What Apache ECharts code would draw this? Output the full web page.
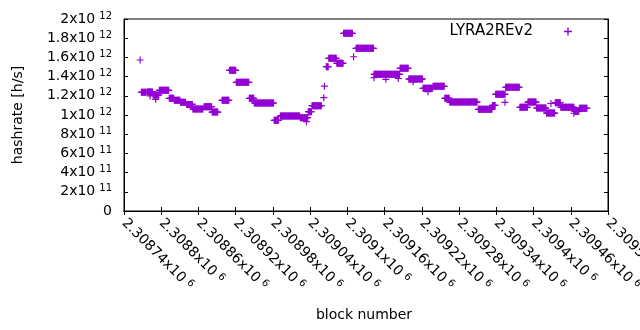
<!DOCTYPE html>
<html>
<head>
<meta charset="utf-8">
<script src="https://cdn.jsdelivr.net/npm/echarts@6/dist/echarts.min.js"></script>
<style>html,body{margin:0;padding:0;background:#fff;}#c{width:640px;height:330px;}</style>
</head>
<body>
<div id="c"></div>
<script>
// Hashrate runs (values in units of 10^12 h/s)
const runStart = [2308768,2308777,2308787,2308797,2308813,2308821,2308831,2308841,2308851,2308869,2308882,2308898,2308910,2308921,2308942,2308950,2308982,2308992,2309024,2309037,2309043,2309066,2309070,2309083,2309094,2309114,2309143,2309185,2309199,2309222,2309238,2309257,2309265,2309311,2309334,2309339,2309355,2309378,2309391,2309405,2309421,2309435,2309444,2309466,2309474];
const runEnd   = [2308775,2308786,2308796,2308812,2308820,2308830,2308839,2308850,2308867,2308881,2308891,2308909,2308920,2308941,2308949,2308981,2308989,2309023,2309036,2309042,2309058,2309069,2309082,2309093,2309108,2309142,2309184,2309198,2309221,2309237,2309256,2309264,2309309,2309333,2309338,2309354,2309377,2309390,2309404,2309420,2309434,2309443,2309465,2309473,2309486];
const runValue = [1.236,1.240,1.208,1.257,1.174,1.153,1.132,1.110,1.062,1.087,1.030,1.153,1.465,1.340,1.174,1.125,0.945,0.990,0.972,1.034,1.097,1.503,1.590,1.538,1.851,1.695,1.424,1.486,1.375,1.278,1.299,1.174,1.135,1.059,1.100,1.215,1.289,1.080,1.135,1.073,1.020,1.128,1.080,1.039,1.070];
// isolated blocks
const soloBlock = [2308766,2308782,2308791,2309034,2309062,2309063,2309110,2309143,2309162,2309182,2309206,2309230,2309354,2309428,2309465];
const soloValue = [1.573,1.198,1.163,0.930,1.180,1.300,1.607,1.389,1.372,1.380,1.347,1.243,1.132,1.120,1.018];

const yTicks = {min: 0, max: 2, interval: 0.2};
const xTicks = {min: 2308740, max: 2309520, interval: 60};
const seriesName = 'LYRA2REv2';

const points = [];
for (let i = 0; i < runStart.length; i++) {
  for (let b = runStart[i]; b <= runEnd[i]; b++) points.push([b, runValue[i]]);
}
for (let i = 0; i < soloBlock.length; i++) points.push([soloBlock[i], soloValue[i]]);

const FONT = 'DejaVu Sans';
const cross = 'path://M29,0H41V29H70V41H41V70H29V41H0V29H29Z';
const rich = {
  b: {fontFamily: FONT, fontSize: 14, color: '#000', lineHeight: 16, verticalAlign: 'middle'},
  s: {fontFamily: FONT, fontSize: 10, color: '#000', lineHeight: 9, verticalAlign: 'top', padding: [0, 0, 0, 4]}
};
function yFmt(v) {
  if (Math.abs(v) < 1e-9) return '{b|0}';
  if (v < 0.999) return '{b|' + Math.round(v * 10) + 'x10}{s|11}';
  return '{b|' + parseFloat(v.toFixed(1)) + 'x10}{s|12}';
}
function xFmt(v) {
  return '{b|' + parseFloat((v / 1e6).toFixed(6)) + 'x10}{s|6}';
}

const chart = echarts.init(document.getElementById('c'), null, {renderer: 'canvas'});
chart.setOption({
  animation: false,
  backgroundColor: '#fff',
  grid: {left: 124, right: 32, top: 19, bottom: 119, containLabel: false, outerBoundsMode: 'none', show: true, borderColor: '#000', borderWidth: 1, backgroundColor: 'transparent'},
  legend: {
    right: 68, top: 24, padding: 0, align: 'right', itemWidth: 60, itemHeight: 8,
    icon: cross,
    textStyle: {fontFamily: FONT, fontSize: 15, color: '#000'},
    data: [seriesName]
  },
  xAxis: [{
    type: 'value', min: xTicks.min, max: xTicks.max, interval: xTicks.interval,
    axisLine: {lineStyle: {color: '#000'}}, splitLine: {show: false},
    axisTick: {inside: true, length: 4, lineStyle: {color: '#000'}},
    axisLabel: {rotate: -45, margin: 10, formatter: xFmt, rich: rich, showMinLabel: true, showMaxLabel: true, hideOverlap: false}
  }, {
    type: 'value', position: 'top', min: xTicks.min, max: xTicks.max, interval: xTicks.interval,
    axisLine: {lineStyle: {color: '#000'}}, splitLine: {show: false},
    axisTick: {inside: true, length: 4, lineStyle: {color: '#000'}}, axisLabel: {show: false}
  }],
  yAxis: [{
    type: 'value', min: yTicks.min, max: yTicks.max, interval: yTicks.interval,
    axisLine: {show: true, lineStyle: {color: '#000'}}, splitLine: {show: false},
    axisTick: {show: true, inside: true, length: 4, lineStyle: {color: '#000'}},
    axisLabel: {margin: 12, formatter: yFmt, rich: rich, align: 'right'}
  }, {
    type: 'value', position: 'right', min: yTicks.min, max: yTicks.max, interval: yTicks.interval,
    axisLine: {show: true, lineStyle: {color: '#000'}}, splitLine: {show: false},
    axisTick: {show: true, inside: true, length: 4, lineStyle: {color: '#000'}}, axisLabel: {show: false}
  }],
  graphic: [
    {type: 'text', x: 18, y: 115, rotation: Math.PI / 2, style: {text: 'hashrate [h/s]', fontFamily: FONT, fontSize: 14, fill: '#000', align: 'center', verticalAlign: 'middle'}},
    {type: 'text', x: 364, y: 315, style: {text: 'block number', fontFamily: FONT, fontSize: 14, fill: '#000', align: 'center', verticalAlign: 'middle'}}
  ],
  series: [{
    name: seriesName, type: 'scatter', symbol: cross, symbolSize: 7,
    itemStyle: {color: '#9400d3', opacity: 1},
    emphasis: {disabled: true},
    data: points
  }]
});
</script>
</body>
</html>
